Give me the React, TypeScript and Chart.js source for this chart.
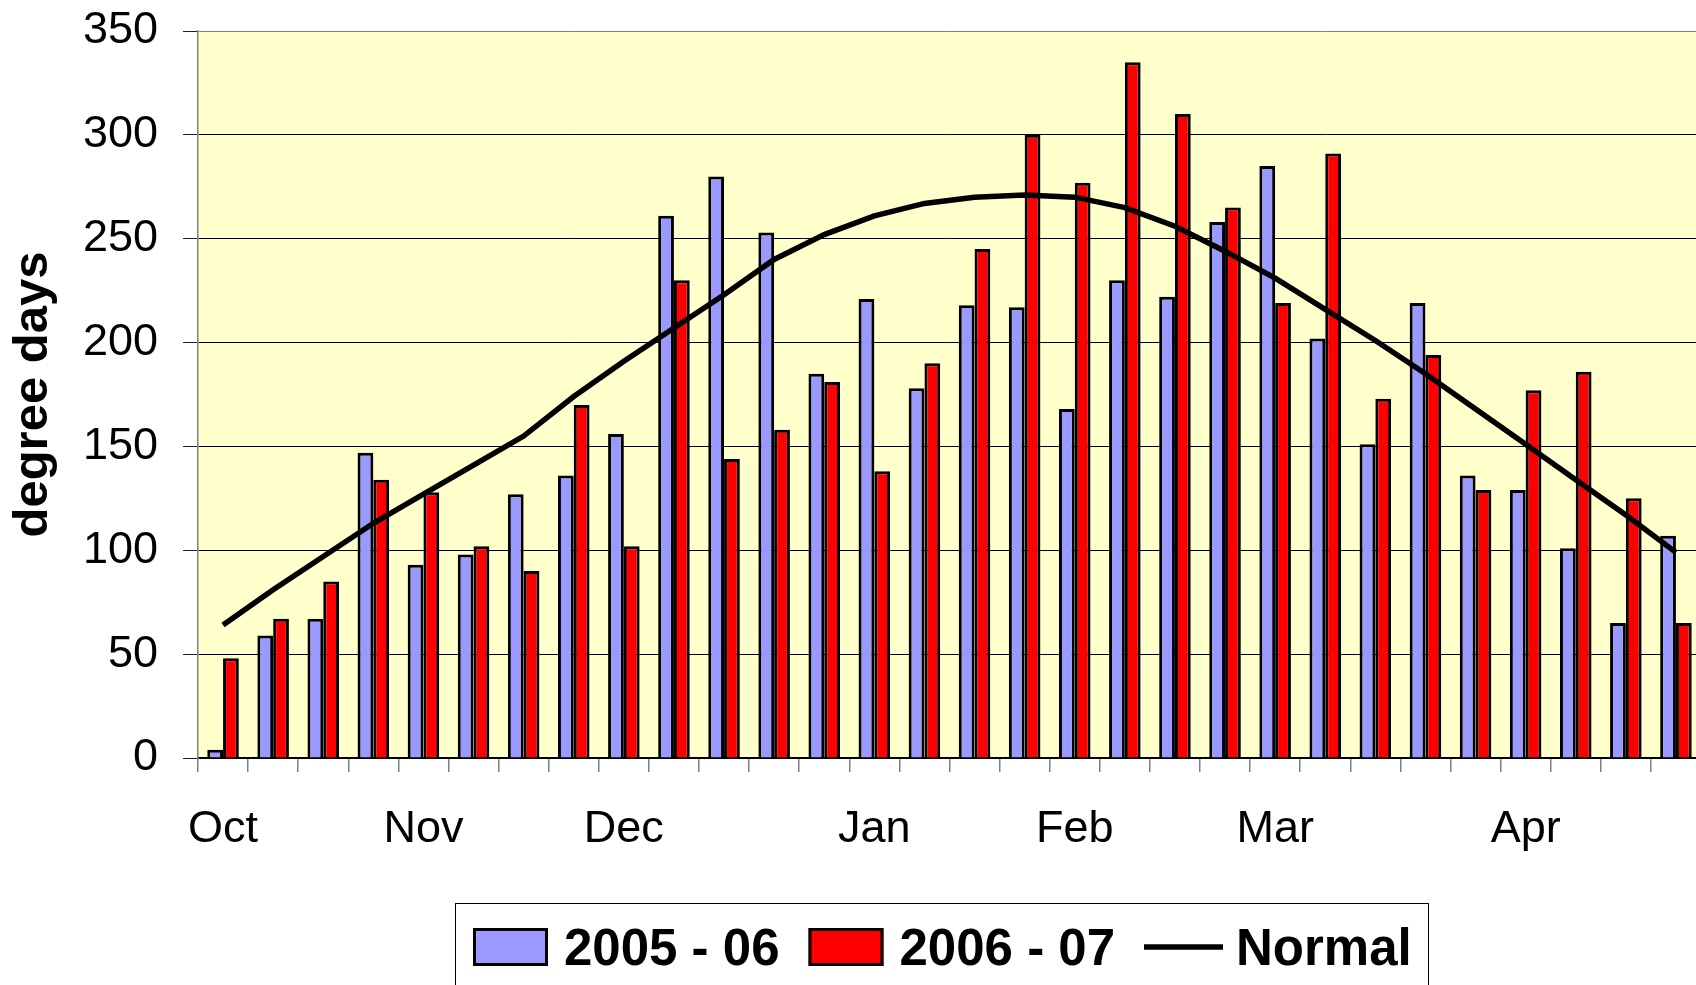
import React, { useEffect, useRef } from 'react';
import { Chart, registerables } from 'chart.js';

Chart.register(...registerables);

const FONT = '"Liberation Sans", Arial, Helvetica, sans-serif';

const categories = ['Oct', '', '', '', 'Nov', '', '', '', 'Dec', '', '', '', '', 'Jan', '', '', '', 'Feb', '', '', '', 'Mar', '', '', '', '', 'Apr', '', '', ''];

const season0506 = [4, 59, 67, 147, 93, 98, 127, 136, 156, 261, 280, 253, 185, 221, 178, 218, 217, 168, 230, 222, 258, 285, 202, 151, 219, 136, 129, 101, 65, 107];
const season0607 = [48, 67, 85, 134, 128, 102, 90, 170, 102, 230, 144, 158, 181, 138, 190, 245, 300, 277, 335, 310, 265, 219, 291, 173, 194, 129, 177, 186, 125, 65];
const normal = [64, 81, 97, 113, 127, 141, 155, 174, 191, 207, 223, 240, 252, 261, 267, 270, 271, 270, 265, 256, 244, 231, 216, 201, 185, 168, 151, 134, 117, 99];

const yTicks = [0, 50, 100, 150, 200, 250, 300, 350];

const seriesLabels = ['2005 - 06', '2006 - 07', 'Normal'];

const CW = 1712;
const CH = 1000;

const bgPlugin = {
  id: 'plotBg',
  beforeDraw(chart: any) {
    const { ctx, chartArea: a } = chart;
    ctx.save();
    ctx.fillStyle = '#FFFFCC';
    ctx.fillRect(a.left, a.top, a.right - a.left, a.bottom - a.top);
    ctx.restore();
  },
};

const legendPlugin = {
  id: 'boxLegend',
  afterDraw(chart: any) {
    const { ctx, chartArea: a, scales } = chart;
    const top = Math.round(scales.x.bottom + 46);
    const left = Math.round(a.left + 257);
    const width = 973;
    ctx.save();
    ctx.fillStyle = '#ffffff';
    ctx.fillRect(left, top, width, 200);
    ctx.strokeStyle = '#000000';
    ctx.lineWidth = 1;
    ctx.strokeRect(left + 0.5, top + 0.5, width, 200);
    const cy = top + 44;
    ctx.font = `bold 51px ${FONT}`;
    ctx.textBaseline = 'alphabetic';
    ctx.textAlign = 'left';
    let x = left + 18;
    chart.data.datasets.forEach((ds: any) => {
      if (ds.type === 'line') {
        ctx.strokeStyle = ds.borderColor;
        ctx.lineWidth = ds.borderWidth;
        ctx.beginPath();
        ctx.moveTo(x, cy);
        ctx.lineTo(x + 79, cy);
        ctx.stroke();
        x += 79 + 13;
      } else {
        ctx.fillStyle = ds.backgroundColor;
        ctx.fillRect(x, cy - 19, 75, 38);
        ctx.strokeStyle = '#000000';
        ctx.lineWidth = 3;
        ctx.strokeRect(x + 1.5, cy - 17.5, 72, 35);
        x += 75 + 16;
      }
      ctx.fillStyle = '#000000';
      ctx.fillText(ds.label, x, cy + 18);
      x += ctx.measureText(ds.label).width + 29;
    });
    ctx.restore();
  },
};

export default function App() {
  const ref = useRef<HTMLCanvasElement | null>(null);

  useEffect(() => {
    const prevOverflow = document.body.style.overflow;
    document.body.style.overflow = 'hidden';
    const canvas = ref.current;
    if (!canvas) return;
    const chart = new Chart(canvas, {
      type: 'bar',
      data: {
        labels: categories,
        datasets: [
          {
            type: 'bar',
            label: seriesLabels[0],
            data: season0506,
            backgroundColor: '#9999FF',
            borderColor: '#000000',
            borderWidth: 3,
            categoryPercentage: 0.63,
            barPercentage: 1.0,
            order: 1,
          },
          {
            type: 'bar',
            label: seriesLabels[1],
            data: season0607,
            backgroundColor: '#FF0000',
            borderColor: '#000000',
            borderWidth: 3,
            categoryPercentage: 0.63,
            barPercentage: 1.0,
            order: 1,
          },
          {
            type: 'line',
            label: seriesLabels[2],
            data: normal,
            borderColor: '#000000',
            backgroundColor: '#000000',
            borderWidth: 5.5,
            pointRadius: 0,
            tension: 0,
            fill: false,
            order: 0,
          },
        ] as any,
      },
      options: {
        responsive: false,
        animation: false,
        devicePixelRatio: 1,
        layout: { padding: { left: 0, top: 31, right: 11, bottom: 143 } },
        plugins: {
          legend: { display: false },
          tooltip: { enabled: false },
          title: { display: false },
        },
        scales: {
          x: {
            type: 'category',
            afterFit: (s: any) => {
              s.height = 99;
            },
            grid: {
              offset: true,
              drawOnChartArea: false,
              drawTicks: true,
              tickLength: 14,
              color: '#808080',
              lineWidth: 1.5,
            },
            border: { display: true, color: '#000000', width: 1.5 },
            ticks: {
              autoSkip: false,
              maxRotation: 0,
              minRotation: 0,
              padding: 31,
              color: '#000000',
              font: { family: FONT, size: 45 },
            },
          },
          y: {
            type: 'linear',
            min: yTicks[0],
            max: yTicks[yTicks.length - 1],
            afterBuildTicks: (s: any) => {
              s.ticks = yTicks.map((v) => ({ value: v }));
            },
            afterFit: (s: any) => {
              s.width = 198;
              s.paddingTop = 0;
              s.paddingBottom = 0;
            },
            ticks: {
              padding: 25,
              color: '#000000',
              font: { family: FONT, size: 45 },
            },
            grid: {
              color: (c: any) => (c.tick && c.tick.value === 350 ? '#808080' : '#000000'),
              tickColor: '#202020',
              tickLength: 15,
              lineWidth: 1,
            },
            border: { display: true, color: '#808080', width: 1.5 },
            title: {
              display: true,
              text: 'degree days',
              color: '#000000',
              font: { family: FONT, size: 49, weight: 'bold' },
              padding: { top: 4, bottom: 0 },
            },
          },
        },
      } as any,
      plugins: [bgPlugin, legendPlugin],
    });
    return () => {
      chart.destroy();
      document.body.style.overflow = prevOverflow;
    };
  }, []);

  return (
    <div
      style={{
        position: 'fixed',
        left: 0,
        top: 0,
        width: CW,
        height: CH,
        overflow: 'hidden',
        background: '#ffffff',
      }}
    >
      <canvas ref={ref} width={CW} height={CH} style={{ display: 'block', width: CW, height: CH }} />
    </div>
  );
}
